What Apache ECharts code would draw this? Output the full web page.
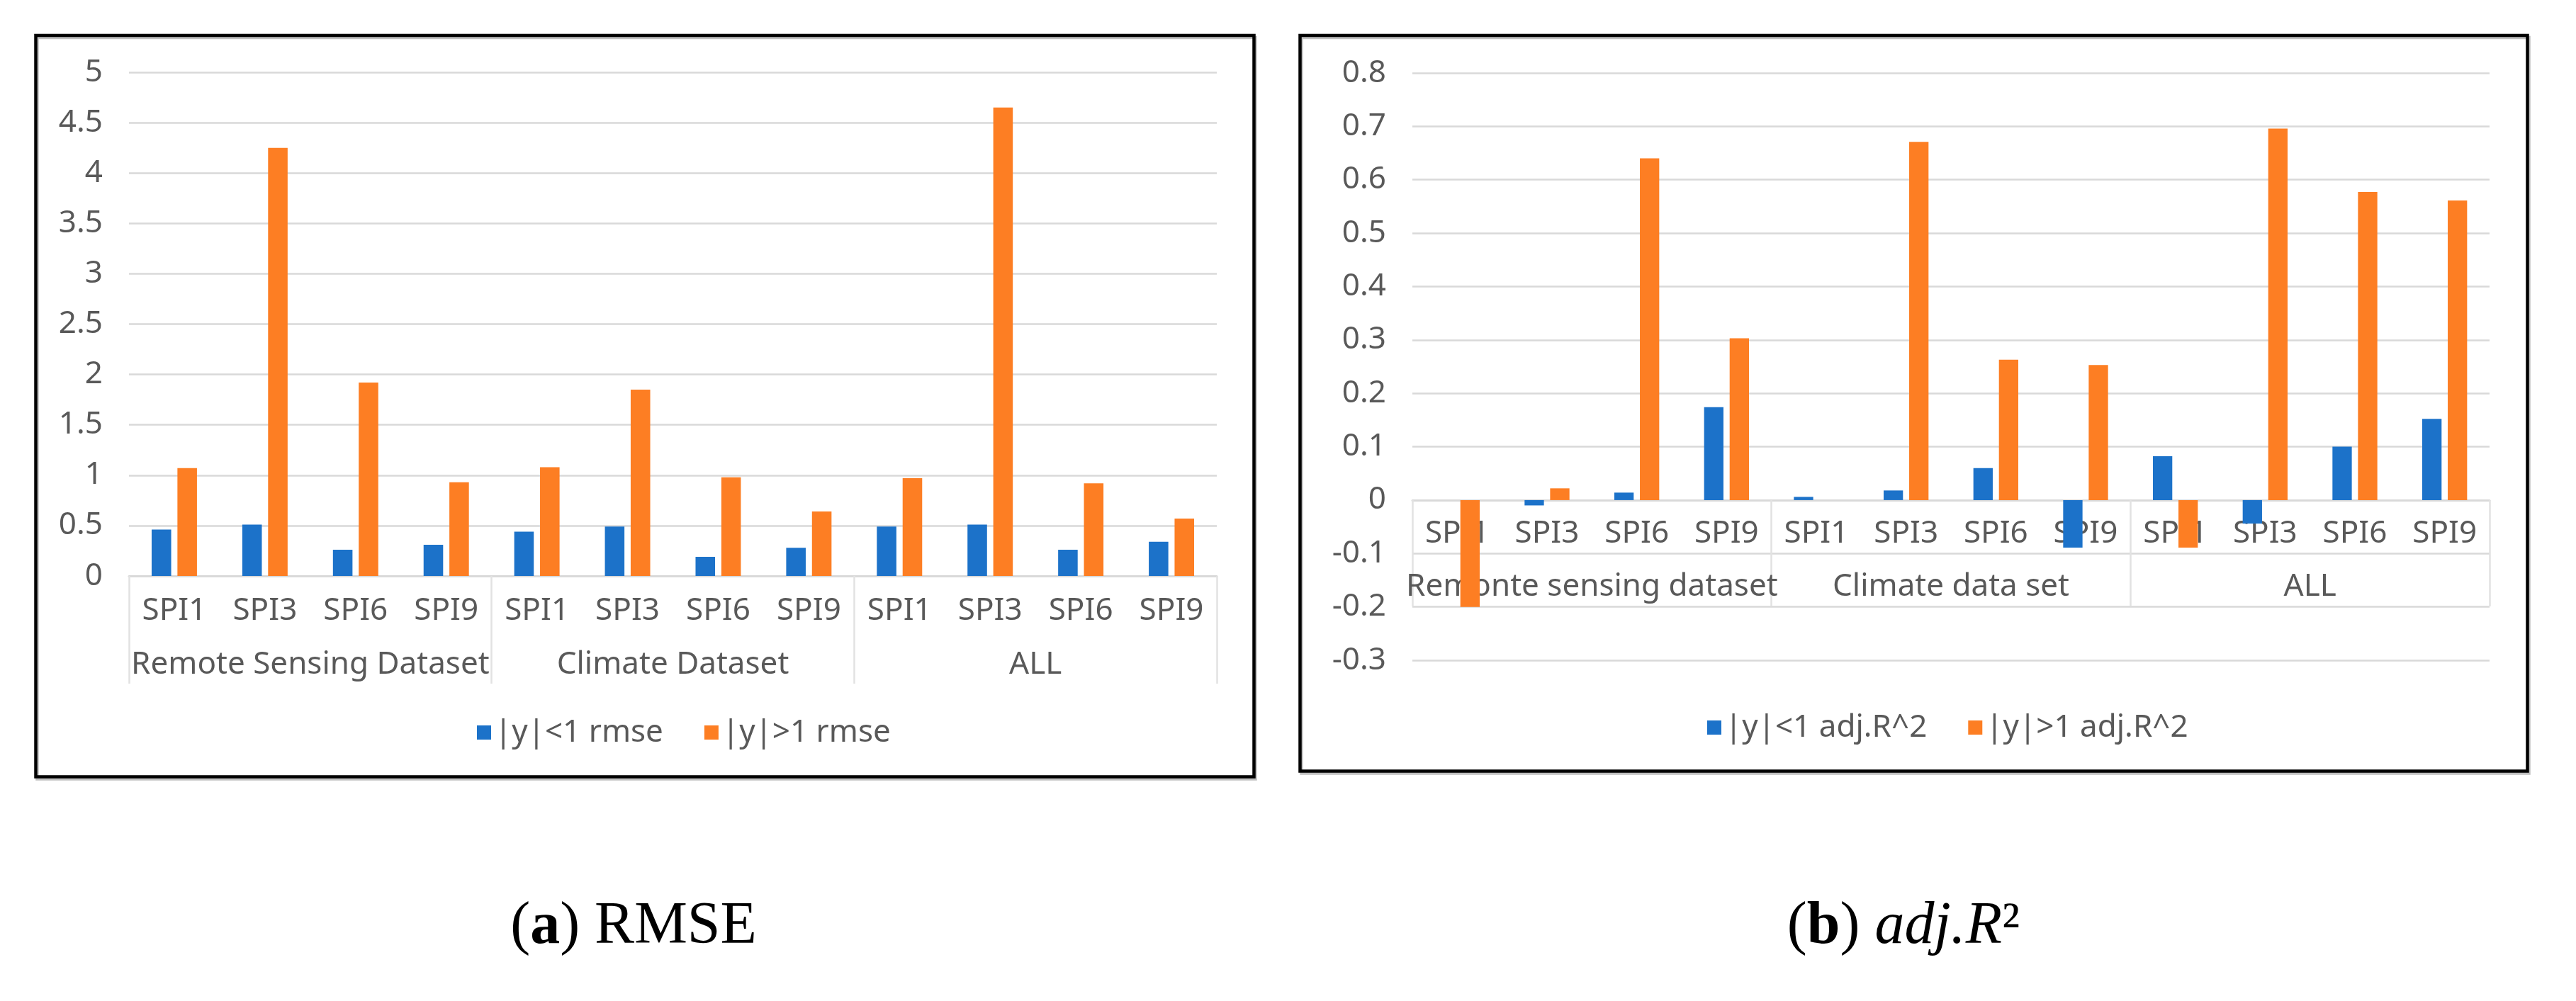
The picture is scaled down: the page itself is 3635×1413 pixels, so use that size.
<!DOCTYPE html>
<html><head><meta charset="utf-8">
<script src="https://cdn.jsdelivr.net/npm/echarts@6/dist/echarts.min.js"></script>
<style>html,body{margin:0;padding:0;background:#fff}#c{width:3635px;height:1413px}</style>
</head><body><div id="c"></div>
<script>
// ---- data ----
const categories = ['SPI1','SPI3','SPI6','SPI9','SPI1','SPI3','SPI6','SPI9','SPI1','SPI3','SPI6','SPI9'];
const groupsA = ['Remote Sensing Dataset','Climate Dataset','ALL'];
const groupsB = ['Remonte sensing dataset','Climate data set','ALL'];
const rmseLowName = '|y|<1 rmse';
const rmseHighName = '|y|>1 rmse';
const r2LowName = '|y|<1 adj.R^2';
const r2HighName = '|y|>1 adj.R^2';
const rmseLow  = [0.46, 0.51, 0.26, 0.31, 0.44, 0.49, 0.19, 0.28, 0.49, 0.51, 0.26, 0.34];
const rmseHigh = [1.07, 4.25, 1.92, 0.93, 1.08, 1.85, 0.98, 0.64, 0.97, 4.65, 0.92, 0.57];
const r2Low  = [0, -0.01, 0.014, 0.174, 0.006, 0.018, 0.06, -0.089, 0.082, -0.044, 0.1, 0.152];
const r2High = [-0.2, 0.022, 0.64, 0.303, 0, 0.671, 0.263, 0.253, -0.089, 0.696, 0.577, 0.561];
const rmseTicks = [0, 5, 0.5];     // min, max, interval
const r2Ticks = [-0.3, 0.8, 0.1];  // min, max, interval

// ---- style ----
const FONT = 'Noto Sans';
const GREY = '#595959';
const BLUE = '#1c72c9';
const ORANGE = '#fd7e23';
const GRIDC = '#d9d9d9';

const gridA = {left: 182, top: 102, width: 1535, height: 711};
const gridB = {left: 1993, top: 103, width: 1520, height: 829};
// offset (px, negative = up) that puts a bottom x axis on the value 0 of the y axis
function zeroOffset(grid, t) { return -(0 - t[0]) / (t[1] - t[0]) * grid.height; }

function yAxis(gi, t) {
  return {
    gridIndex: gi, type: 'value', min: t[0], max: t[1], interval: t[2],
    axisLine: {show: false}, axisTick: {show: false},
    axisLabel: {fontSize: 44, color: GREY, fontFamily: FONT, margin: 37},
    splitLine: {lineStyle: {color: GRIDC, width: 2.5}}
  };
}
function catAxis(gi, margin, offset) {
  return {
    gridIndex: gi, type: 'category', data: categories, position: 'bottom', offset: offset,
    axisLine: {onZero: false, lineStyle: {color: GRIDC, width: 3}},
    axisTick: {show: false},
    axisLabel: {interval: 0, margin: margin, fontSize: 44, lineHeight: 44, color: GREY, fontFamily: FONT},
    splitLine: {show: false}
  };
}
function groupAxis(gi, data, margin, tickLen, offset) {
  return {
    gridIndex: gi, type: 'category', data: data, position: 'bottom', offset: offset,
    axisLine: {show: false, onZero: false},
    axisTick: {show: true, interval: 0, length: tickLen, lineStyle: {color: '#e2e2e2', width: 2.5}},
    axisLabel: {interval: 0, margin: margin, fontSize: 44, lineHeight: 44, color: GREY, fontFamily: FONT},
    splitLine: {show: false}
  };
}
function bar(name, data, xi, yi, color) {
  return {
    name: name, type: 'bar', data: data, xAxisIndex: xi, yAxisIndex: yi,
    barGap: '32%', barCategoryGap: '50%',
    itemStyle: {color: color}
  };
}
const legendText = {fontSize: 44, lineHeight: 44, color: GREY, fontFamily: FONT};
const offA = zeroOffset(gridA, rmseTicks);
const offB = zeroOffset(gridB, r2Ticks);

const chart = echarts.init(document.getElementById('c'));
chart.setOption({
  backgroundColor: '#fff',
  animation: false,
  grid: [gridA, gridB],
  xAxis: [
    catAxis(0, 27, offA),
    groupAxis(0, groupsA, 103, 152, offA),
    catAxis(1, 26, offB),
    groupAxis(1, groupsB, 101, 150, offB)
  ],
  yAxis: [
    yAxis(0, rmseTicks),
    yAxis(1, r2Ticks)
  ],
  legend: [
    {data: [rmseLowName, rmseHighName], left: 668, top: 1007, itemWidth: 20, itemHeight: 20,
     itemGap: 58, icon: 'rect', textStyle: legendText},
    {data: [r2LowName, r2HighName], left: 2404, top: 1000, itemWidth: 20, itemHeight: 20,
     itemGap: 58, icon: 'rect', textStyle: legendText}
  ],
  series: [
    bar(rmseLowName, rmseLow, 0, 0, BLUE),
    bar(rmseHighName, rmseHigh, 0, 0, ORANGE),
    bar(r2LowName, r2Low, 2, 1, BLUE),
    bar(r2HighName, r2High, 2, 1, ORANGE)
  ],
  graphic: [
    {type: 'rect', shape: {x: 50.5, y: 50, width: 1719, height: 1046.5},
     style: {fill: 'none', stroke: '#000', lineWidth: 4.5, shadowColor: 'rgba(0,0,0,0.25)', shadowOffsetX: 2, shadowOffsetY: 3}, z: 100},
    {type: 'rect', shape: {x: 1834.5, y: 50, width: 1732, height: 1038.5},
     style: {fill: 'none', stroke: '#000', lineWidth: 4.5, shadowColor: 'rgba(0,0,0,0.25)', shadowOffsetX: 2, shadowOffsetY: 3}, z: 100},
    {type: 'text', x: 894, y: 1309, z: 100,
     style: {text: '{n|(}{b|a}{n|) RMSE}', align: 'center', verticalAlign: 'middle',
       rich: {n: {fontFamily: 'Liberation Serif', fontSize: 84, fill: '#000'},
              b: {fontFamily: 'Liberation Serif', fontSize: 84, fontWeight: 'bold', fill: '#000'}}}},
    {type: 'text', x: 2686, y: 1309, z: 100,
     style: {text: '{n|(}{b|b}{n|) }{i|adj.R}{n|²}', align: 'center', verticalAlign: 'middle',
       rich: {n: {fontFamily: 'Liberation Serif', fontSize: 84, fill: '#000'},
              b: {fontFamily: 'Liberation Serif', fontSize: 84, fontWeight: 'bold', fill: '#000'},
              i: {fontFamily: 'Liberation Serif', fontSize: 84, fontStyle: 'italic', fill: '#000'}}}}
  ]
});
</script></body></html>
